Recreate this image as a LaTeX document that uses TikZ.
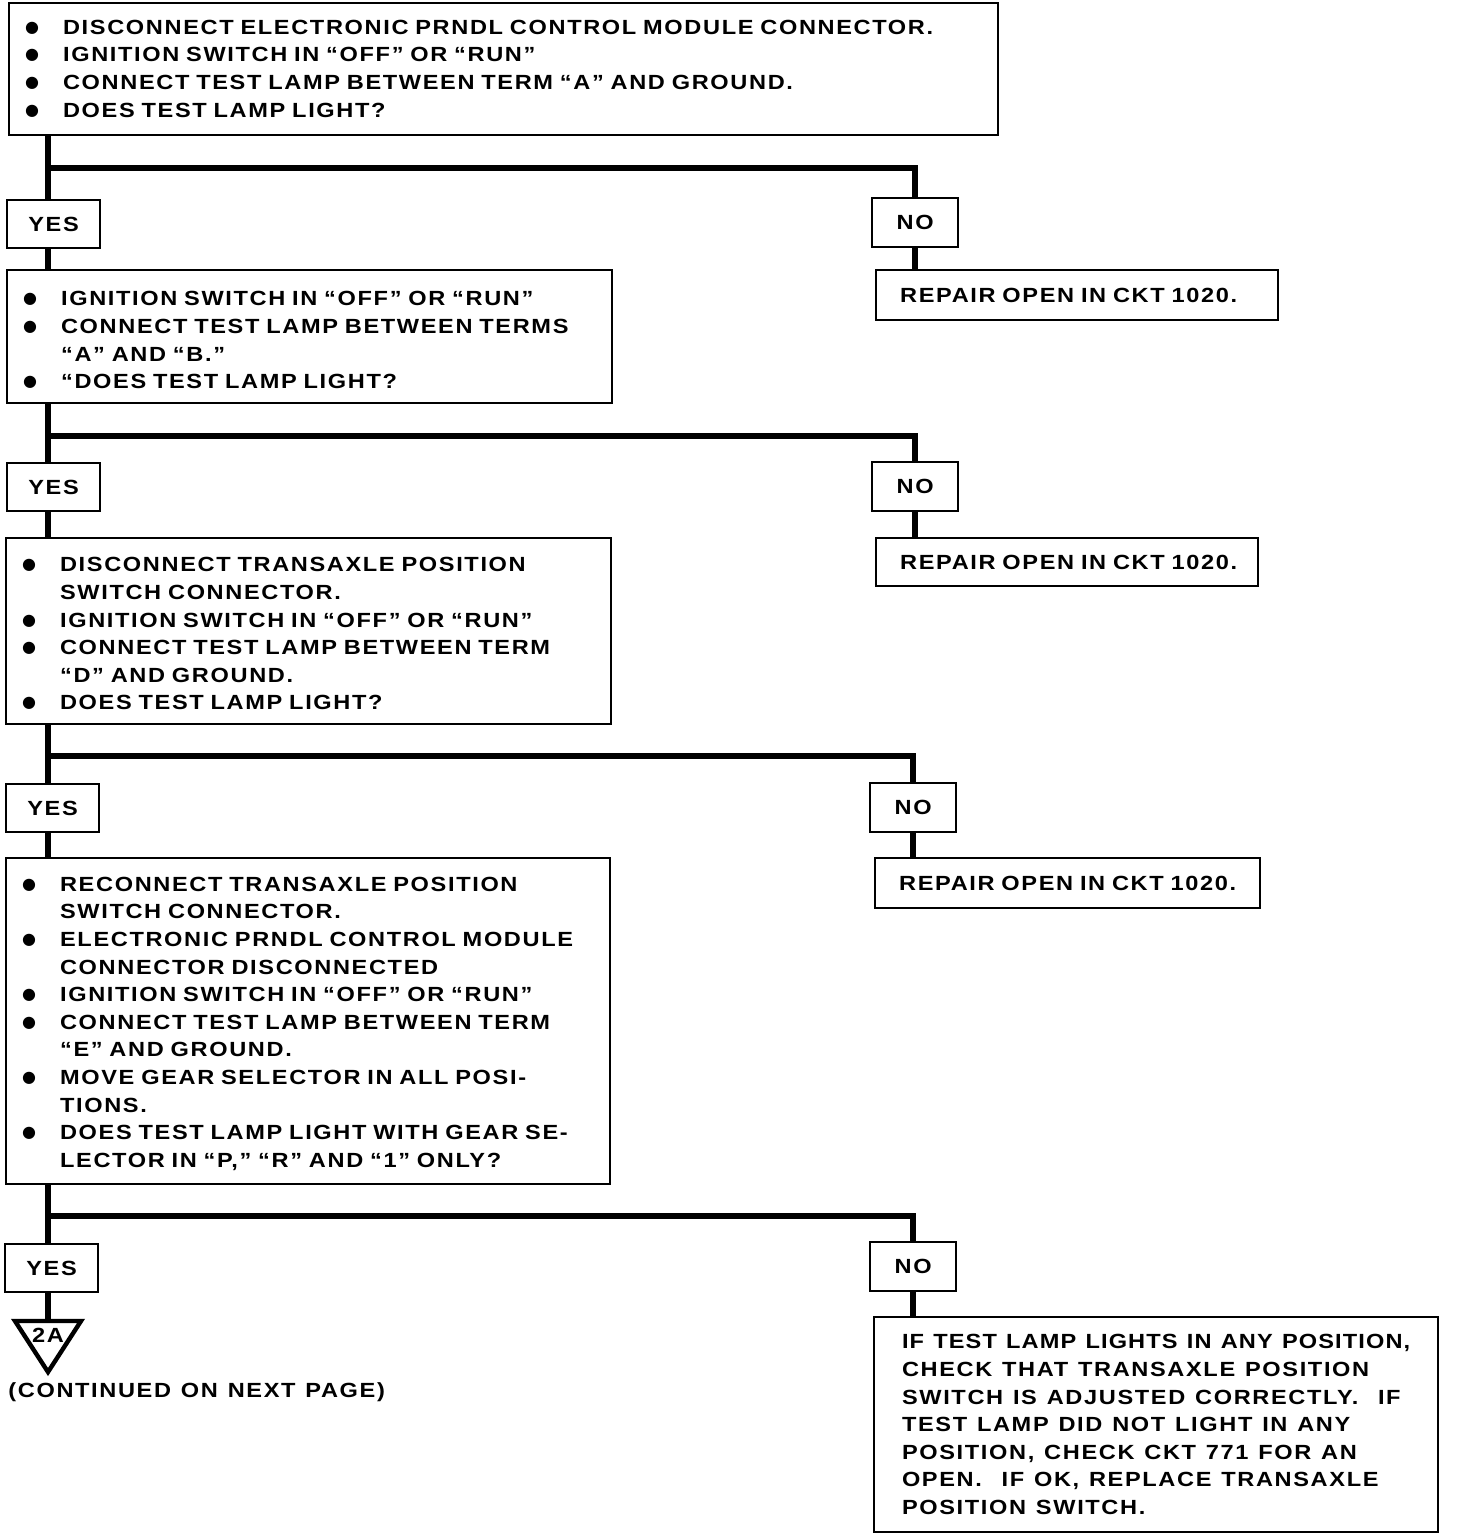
\documentclass[tikz,border=0pt]{standalone}
\usepackage{fontspec}
\setmainfont{Liberation Sans}[FakeStretch=1.15, LetterSpace=8, WordSpace=1.2]
\newfontfamily\dotfont{DejaVu Sans}
\newlength{\bli}
\setlength{\bli}{18pt}
\newcommand{\dotb}{\raisebox{1pt}{\fontsize{8}{8}\dotfont ●}}
\newcommand{\bl}{\par\hangindent=\bli\hangafter=1\noindent\makebox[\bli][l]{\hspace{-1pt}\dotb}}
\newcommand{\el}[1][3pt]{\par\vskip#1\nointerlineskip\hbox{}}

\begin{document}
\begin{tikzpicture}[
            x=0.5pt, y=-0.5pt,
            every node/.style={font=\fontsize{10.25}{13.8}\selectfont\bfseries},
            box/.style={draw, line width=1.1pt, anchor=north west, inner xsep=9pt, inner ysep=0pt, align=left},
            rep/.style={draw, line width=1.1pt, anchor=north west, inner xsep=12pt, inner ysep=0pt, align=left},
            yes/.style={draw, line width=1.1pt, anchor=north west, inner sep=0pt, minimum width=46.5pt, minimum height=24pt},
            no/.style={draw, line width=1.1pt, anchor=north west, inner sep=0pt, minimum width=43pt, minimum height=24.5pt},
            trunk/.style={line width=3pt},
            tri/.style={line width=2.2pt, line join=miter}
        ]
            \useasboundingbox (0,0) rectangle (1456,1534);
            % questions
            \node[box, text width=476.5pt, minimum height=66pt] (q1) at (8,2) {%
                \bl DISCONNECT ELECTRONIC PRNDL CONTROL MODULE CONNECTOR.
                \bl IGNITION SWITCH IN “OFF” OR “RUN”
                \bl CONNECT TEST LAMP BETWEEN TERM “A” AND GROUND.
                \bl DOES TEST LAMP LIGHT?\el[7pt]};
            \node[box, text width=284.5pt, minimum height=66.5pt] (q2) at (6,269) {%
                \bl IGNITION SWITCH IN “OFF” OR “RUN”
                \bl CONNECT TEST LAMP BETWEEN TERMS\newline “A” AND “B.”
                \bl “DOES TEST LAMP LIGHT?\el};
            \node[box, text width=284.5pt, minimum height=93pt] (q3) at (5,537) {%
                \bl DISCONNECT TRANSAXLE POSITION\newline SWITCH CONNECTOR.
                \bl IGNITION SWITCH IN “OFF” OR “RUN”
                \bl CONNECT TEST LAMP BETWEEN TERM\newline “D” AND GROUND.
                \bl DOES TEST LAMP LIGHT?\el[4pt]};
            \node[box, text width=284pt, minimum height=163pt] (q4) at (5,857) {%
                \bl RECONNECT TRANSAXLE POSITION\newline SWITCH CONNECTOR.
                \bl ELECTRONIC PRNDL CONTROL MODULE\newline CONNECTOR DISCONNECTED
                \bl IGNITION SWITCH IN “OFF” OR “RUN”
                \bl CONNECT TEST LAMP BETWEEN TERM\newline “E” AND GROUND.
                \bl MOVE GEAR SELECTOR IN ALL POSI-\newline TIONS.
                \bl DOES TEST LAMP LIGHT WITH GEAR SE-\newline LECTOR IN “P,” “R” AND “1” ONLY?\el[4pt]};
            % answers
            \node[yes] (yes1) at (6,199) {YES};
            \node[no] (no1) at (871,197) {NO};
            \node[yes] (yes2) at (6,462) {YES};
            \node[no] (no2) at (871,461) {NO};
            \node[yes] (yes3) at (5,783) {YES};
            \node[no] (no3) at (869,782) {NO};
            \node[yes] (yes4) at (4,1243) {YES};
            \node[no] (no4) at (869,1241) {NO};
            % repairs
            \node[rep, text width=177pt, minimum height=25pt] (r1) at (875,269) {\mbox{REPAIR OPEN IN CKT 1020.}};
            \node[rep, text width=167pt, minimum height=24pt] (r2) at (875,537) {\mbox{REPAIR OPEN IN CKT 1020.}};
            \node[rep, text width=168.5pt, minimum height=25pt] (r3) at (874,857) {\mbox{REPAIR OPEN IN CKT 1020.}};
            \node[rep, minimum width=282pt, minimum height=107.5pt] (r4) at (873,1316) {%
                \addfontfeatures{LetterSpace=5.5}%
                IF TEST LAMP LIGHTS IN ANY POSITION,\\
                CHECK THAT TRANSAXLE POSITION\\
                SWITCH IS ADJUSTED CORRECTLY.\ \ IF\\
                TEST LAMP DID NOT LIGHT IN ANY\\
                POSITION, CHECK CKT 771 FOR AN\\
                OPEN.\ \ IF OK, REPLACE TRANSAXLE\\
                POSITION SWITCH.};
            % continuation
            \coordinate (tri) at (48,1321);
            \draw[tri] (15,1321) -- (81,1321) -- (48,1372) -- cycle;
            \node (c2a) at (48,1335) {2A};
            \node[anchor=west, inner sep=0pt] (cont) at (8,1392) {(CONTINUED ON NEXT PAGE)};
            % trunks
            \coordinate (j1) at (48,168);
            \coordinate (j2) at (48,436);
            \coordinate (j3) at (48,756);
            \coordinate (j4) at (48,1216);
            \draw[trunk] (q1.south -| j1) -- (yes1.north -| j1);
            \draw[trunk] (j1) -| (no1.north);
            \draw[trunk] (yes1.south -| j1) -- (q2.north -| j1);
            \draw[trunk] (no1.south) -- (r1.north -| no1.south);
            \draw[trunk] (q2.south -| j2) -- (yes2.north -| j2);
            \draw[trunk] (j2) -| (no2.north);
            \draw[trunk] (yes2.south -| j2) -- (q3.north -| j2);
            \draw[trunk] (no2.south) -- (r2.north -| no2.south);
            \draw[trunk] (q3.south -| j3) -- (yes3.north -| j3);
            \draw[trunk] (j3) -| (no3.north);
            \draw[trunk] (yes3.south -| j3) -- (q4.north -| j3);
            \draw[trunk] (no3.south) -- (r3.north -| no3.south);
            \draw[trunk] (q4.south -| j4) -- (yes4.north -| j4);
            \draw[trunk] (j4) -| (no4.north);
            \draw[trunk] (yes4.south -| j4) -- (tri);
            \draw[trunk] (no4.south) -- (r4.north -| no4.south);
        \end{tikzpicture}
\end{document}
